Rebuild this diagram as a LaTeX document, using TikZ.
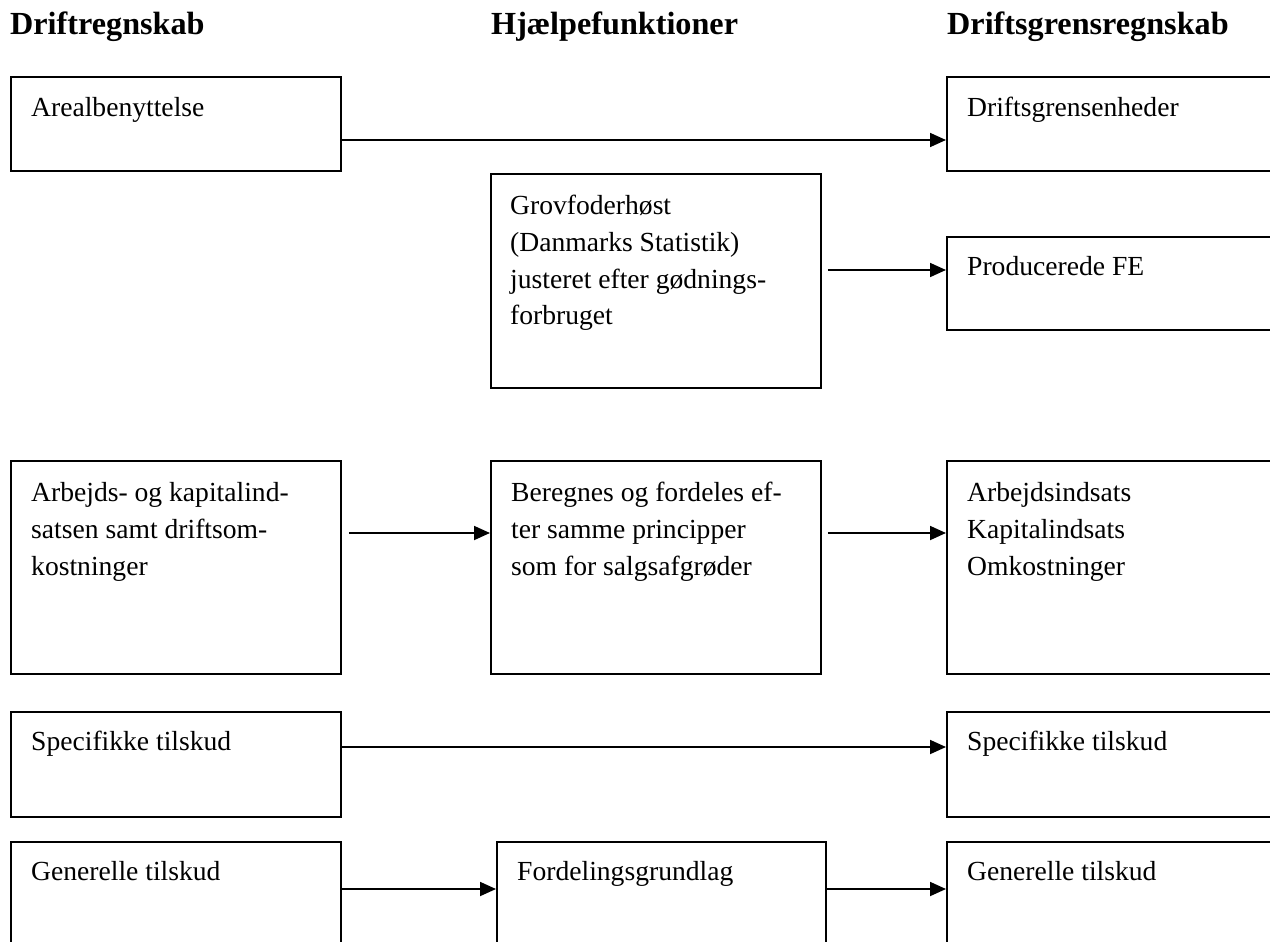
\documentclass[tikz,border=0pt]{standalone}
\usepackage{fontspec}
\setmainfont{Liberation Serif}
\usetikzlibrary{arrows.meta,calc}
\begin{document}
\begin{tikzpicture}[x=1pt,y=-1pt,
  box/.style={draw, line width=1.8pt, anchor=north west, inner sep=0pt},
  txt/.style={anchor=north west, inner sep=0pt, align=left, font=\fontsize{27.6}{36.7}\selectfont},
  hdr/.style={anchor=base west, inner sep=0pt, font=\fontsize{32.2}{38}\selectfont\bfseries},
  arr/.style={line width=1.8pt, -{Triangle[length=16pt,width=14pt]}}]
\useasboundingbox (0,0) rectangle (1270,942);
\clip (0,0) rectangle (1270,942);
% headers
\node[hdr] (h1) at (10,35) {Driftregnskab};
\node[hdr] (h2) at (491,35) {Hjælpefunktioner};
\node[hdr] (h3) at (947,35) {Driftsgrensregnskab};
% boxes
\node[box, minimum width=330pt, minimum height=94pt] (are) at (10,76) {};
\node[box, minimum width=340pt, minimum height=94pt] (dge) at (946,76) {};
\node[box, minimum width=330pt, minimum height=214pt] (grov) at (490,173) {};
\node[box, minimum width=340pt, minimum height=93pt] (prod) at (946,236) {};
\node[box, minimum width=330pt, minimum height=213pt] (arb) at (10,460) {};
\node[box, minimum width=330pt, minimum height=213pt] (ber) at (490,460) {};
\node[box, minimum width=340pt, minimum height=213pt] (ais) at (946,460) {};
\node[box, minimum width=330pt, minimum height=105pt] (spl) at (10,711) {};
\node[box, minimum width=340pt, minimum height=105pt] (spr) at (946,711) {};
\node[box, minimum width=330pt, minimum height=150pt] (genl) at (10,841) {};
\node[box, minimum width=329pt, minimum height=150pt] (ford) at (496,841) {};
\node[box, minimum width=340pt, minimum height=150pt] (genr) at (946,841) {};
% texts
\node[txt] (tare) at ($(are.north west)+(21,15)$) {\strut Arealbenyttelse};
\node[txt] (tdge) at ($(dge.north west)+(21,15)$) {\strut Driftsgrensenheder};
\node[txt] (tgrov) at ($(grov.north west)+(20,16)$) {\strut Grovfoderhøst\\(Danmarks Statistik)\\justeret efter gødnings-\\forbruget};
\node[txt] (tprod) at ($(prod.north west)+(21,14)$) {\strut Producerede FE};
\node[txt] (tarb) at ($(arb.north west)+(21,16)$) {\strut Arbejds- og kapitalind-\\satsen samt driftsom-\\kostninger};
\node[txt] (tber) at ($(ber.north west)+(21,16)$) {\strut Beregnes og fordeles ef-\\ter samme principper\\som for salgsafgrøder};
\node[txt] (tais) at ($(ais.north west)+(21,16)$) {\strut Arbejdsindsats\\Kapitalindsats\\Omkostninger};
\node[txt] (tspl) at ($(spl.north west)+(21,14)$) {\strut Specifikke tilskud};
\node[txt] (tspr) at ($(spr.north west)+(21,14)$) {\strut Specifikke tilskud};
\node[txt] (tgenl) at ($(genl.north west)+(21,14)$) {\strut Generelle tilskud};
\node[txt] (tford) at ($(ford.north west)+(21,14)$) {\strut Fordelingsgrundlag};
\node[txt] (tgenr) at ($(genr.north west)+(21,14)$) {\strut Generelle tilskud};
% arrows
\draw[arr] (are.east |- 0,140) -- (dge.west |- 0,140);
\draw[arr, shorten <=6pt] (grov.east |- 0,270) -- (prod.west |- 0,270);
\draw[arr, shorten <=7pt] (arb.east |- 0,533) -- (ber.west |- 0,533);
\draw[arr, shorten <=6pt] (ber.east |- 0,533) -- (ais.west |- 0,533);
\draw[arr] (spl.east |- 0,747) -- (spr.west |- 0,747);
\draw[arr] (genl.east |- 0,889) -- (ford.west |- 0,889);
\draw[arr] (ford.east |- 0,889) -- (genr.west |- 0,889);
\end{tikzpicture}
\end{document}
